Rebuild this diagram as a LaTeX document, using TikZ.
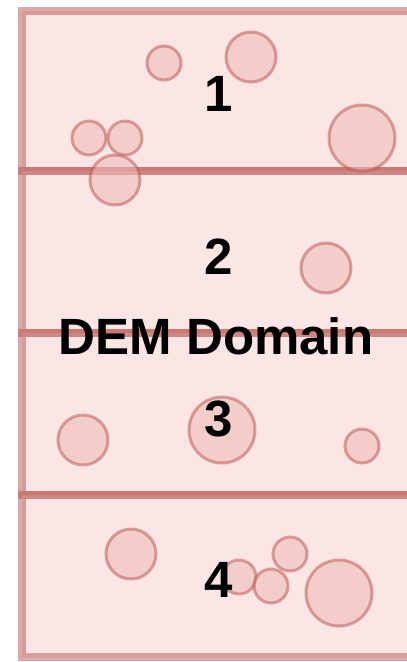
\documentclass[tikz,border=0pt]{standalone}
\usepackage{fontspec}
\setmainfont{Liberation Sans}
\usepackage{xcolor}
\definecolor{demline}{HTML}{B85450}
\definecolor{demfill}{HTML}{F8CECC}

\begin{document}
\begin{tikzpicture}[x=1pt, y=-1pt,
    layer/.style={rectangle, draw=demline, draw opacity=0.5, line width=8pt,
                  fill=demfill, fill opacity=0.5, inner sep=0pt,
                  minimum width=398pt},
    grain/.style={circle, draw=demline, draw opacity=0.5, line width=3pt,
                  fill=demfill!85!demline, fill opacity=0.6, inner sep=0pt},
    small/.style={grain, minimum size=34pt},
    medium/.style={grain, minimum size=50pt},
    large/.style={grain, minimum size=66pt},
    tag/.style={font=\bfseries\fontsize{51}{60}\selectfont, inner sep=0pt}]
  \clip (0,0) rectangle (407,662);

  % the four slabs of the domain
  \node[layer, minimum height=160pt] (S1) at (221,91)  {};
  \node[layer, minimum height=162pt] (S2) at (221,252) {};
  \node[layer, minimum height=162pt] (S3) at (221,414) {};
  \node[layer, minimum height=162pt] (S4) at (221,576) {};

  % particles
  \node[small]  (P1)  at (164,63)  {};
  \node[medium] (P2)  at (251,57)  {};
  \node[small]  (P3)  at (89,138)  {};
  \node[small]  (P4)  at (125,138) {};
  \node[medium] (P5)  at (115,180) {};
  \node[large]  (P6)  at (362,138) {};
  \node[medium] (P7)  at (326,268) {};
  \node[medium] (P8)  at (83,440)  {};
  \node[large]  (P9)  at (222,430) {};
  \node[small]  (P10) at (362,446) {};
  \node[medium] (P11) at (131,554) {};
  \node[small]  (P12) at (239,577) {};
  \node[small]  (P13) at (271,586) {};
  \node[small]  (P14) at (290,554) {};
  \node[large]  (P15) at (339,593) {};

  % labels
  \node[tag] (L1)  at (219,94)  {1};
  \node[tag] (L2)  at (219,257) {2};
  \node[tag] (L3)  at (219,419) {3};
  \node[tag] (L4)  at (219,580) {4};
  \node[tag] (DEM) at (216,336) {DEM Domain};
\end{tikzpicture}
\end{document}
